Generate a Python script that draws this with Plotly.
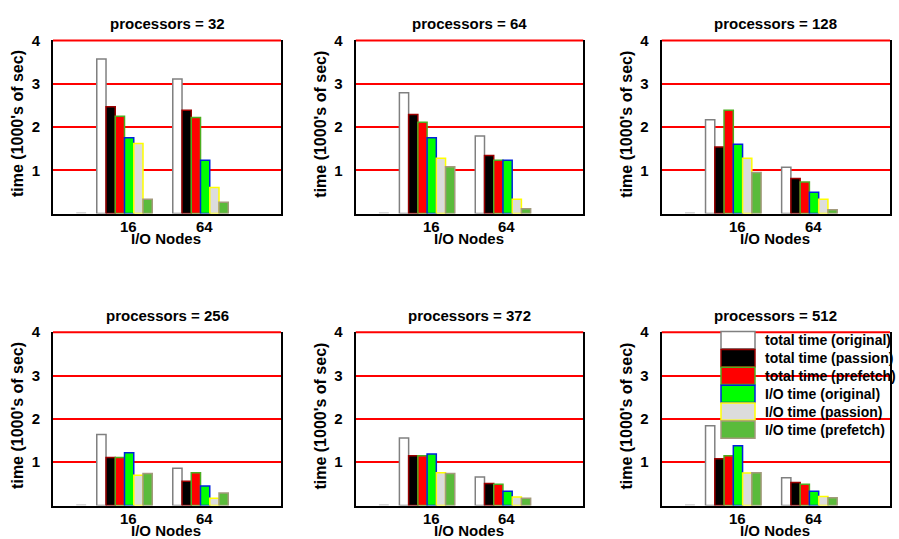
import plotly.graph_objects as go

# Run times (1000's of seconds) for each processor count, at 16 and 64 I/O nodes
PROCESSORS = [32, 64, 128, 256, 372, 512]
IO_NODES = ["16", "64"]

TOTAL_ORIGINAL = [[3.57, 3.11], [2.79, 1.79], [2.17, 1.07], [1.64, 0.86], [1.56, 0.66], [1.84, 0.64]]
TOTAL_PASSION = [[2.47, 2.39], [2.29, 1.34], [1.54, 0.81], [1.11, 0.56], [1.15, 0.51], [1.08, 0.53]]
TOTAL_PREFETCH = [[2.25, 2.22], [2.11, 1.23], [2.39, 0.73], [1.11, 0.76], [1.15, 0.49], [1.15, 0.49]]
IO_ORIGINAL = [[1.75, 1.23], [1.75, 1.23], [1.60, 0.49], [1.22, 0.45], [1.19, 0.33], [1.38, 0.33]]
IO_PASSION = [[1.62, 0.60], [1.28, 0.33], [1.28, 0.33], [0.70, 0.17], [0.76, 0.20], [0.75, 0.21]]
IO_PREFETCH = [[0.33, 0.26], [1.08, 0.11], [0.95, 0.09], [0.74, 0.29], [0.74, 0.17], [0.76, 0.18]]

SERIES_NAMES = ["total time (original)", "total time (passion)", "total time (prefetch)",
                "I/O time (original)", "I/O time (passion)", "I/O time (prefetch)"]
SERIES_VALUES = [TOTAL_ORIGINAL, TOTAL_PASSION, TOTAL_PREFETCH, IO_ORIGINAL, IO_PASSION, IO_PREFETCH]
FILLS = ["#ffffff", "#000000", "#ff0000", "#00ff00", "#dcdcdc", "#5abb3b"]
EDGES = ["#808080", "#9b0000", "#4cae20", "#0022dd", "#ffff00", "#a39a7c"]

# short light-grey stub resting on the x axis left of the first cluster
STUB_X = [0.365, 0.495]
STUB_Y = [0.0, 0.0]

Y_TICKS = [1, 2, 3, 4]
Y_MAX = 4
GROUP_X = [1, 2]

W, H = 899, 539

# panel frames in pixels
COL_PX = [(53, 281), (355.7, 583.3), (661.7, 890)]
ROW_PX = [(32, 208), (328.7, 505)]

FONT = "Liberation Sans, Arial, Helvetica, sans-serif"


def bold(size):
    return dict(size=size, color="black", family=FONT, weight="bold")


def fy(py):
    """pixel row -> paper fraction"""
    return (H - py) / H


fig = go.Figure()
annotations = []
shapes = []

for k, procs in enumerate(PROCESSORS):
    r, c = divmod(k, 3)
    idx = "" if k == 0 else str(k + 1)
    xa, ya = "x" + idx, "y" + idx
    x0, x1 = COL_PX[c]
    top, bot = ROW_PX[r]

    for s, name in enumerate(SERIES_NAMES):
        fig.add_trace(go.Bar(
            x=GROUP_X, y=SERIES_VALUES[s][k], name=name,
            xaxis=xa, yaxis=ya, offsetgroup=str(s), showlegend=False,
            marker=dict(color=FILLS[s], line=dict(color=EDGES[s], width=1.5)),
        ))
    fig.add_trace(go.Scatter(
        x=STUB_X, y=STUB_Y, mode="lines", xaxis=xa, yaxis=ya, showlegend=False,
        line=dict(color="#d6d6d6", width=3), hoverinfo="skip",
    ))

    fig.layout["xaxis" + idx] = dict(
        domain=[x0 / W, x1 / W], range=[0.059, 3.059], anchor=ya,
        showticklabels=False, ticks="", showgrid=False,
        showline=True, linecolor="black", linewidth=2, mirror=False,
        zeroline=False, layer="below traces",
    )
    fig.layout["yaxis" + idx] = dict(
        domain=[fy(bot), fy(top)], range=[0, Y_MAX], anchor=xa,
        tickvals=Y_TICKS, ticks="", showgrid=True, gridcolor="#ff0000", gridwidth=2,
        showline=True, linecolor="black", linewidth=2, mirror=True,
        zeroline=False, layer="below traces", ticklabelstandoff=8,
        tickfont=bold(15),
    )

    # red rule along the top of the frame (the y = 4 grid line)
    shapes.append(dict(
        type="line", xref="paper", yref="paper", x0=x0 / W, x1=x1 / W,
        y0=fy(top), y1=fy(top),
        line=dict(color="#ff0000", width=2), layer="below",
    ))

    # category labels under each cluster
    for gx, lab in zip(GROUP_X, IO_NODES):
        annotations.append(dict(
            text=lab, xref=xa, yref=ya + " domain", x=gx, y=0, yshift=-13, xshift=4,
            xanchor="center", yanchor="middle", showarrow=False, font=bold(15),
        ))
    # panel title
    annotations.append(dict(
        text=f"processors = {procs}", xref=xa + " domain", yref=ya + " domain",
        x=0.5, y=1, yshift=17, xanchor="center", yanchor="middle", showarrow=False,
        font=bold(15),
    ))
    # x axis title
    annotations.append(dict(
        text="I/O Nodes", xref=xa + " domain", yref=ya + " domain",
        x=0.5, y=0, yshift=-25, xshift=-1, xanchor="center", yanchor="middle",
        showarrow=False, font=bold(15),
    ))
    # y axis title
    annotations.append(dict(
        text="time (1000's of sec)", xref=xa + " domain", yref=ya + " domain",
        x=0, y=0.5, xshift=-35, yshift=3, xanchor="center", yanchor="middle", textangle=-90,
        showarrow=False, font=bold(16),
    ))

# key drawn inside the last panel
lx, ly = "x6 domain", "y6 domain"
px0, px1 = COL_PX[2]
ptop, pbot = ROW_PX[1]
pw, ph = px1 - px0, pbot - ptop
for s, name in enumerate(SERIES_NAMES):
    box_top = 328.0 + 18.2 * s
    box_bot = box_top + 17.5
    shapes.append(dict(
        type="rect", xref=lx, yref=ly,
        x0=(721 - px0) / pw, x1=(755 - px0) / pw,
        y0=(pbot - box_bot) / ph, y1=(pbot - box_top) / ph,
        fillcolor=FILLS[s], line=dict(color=EDGES[s], width=1.5), layer="above",
    ))
    annotations.append(dict(
        text=name, xref=lx, yref=ly,
        x=(763 - px0) / pw, y=(pbot - (box_top + box_bot) / 2) / ph,
        xanchor="left", yanchor="middle", showarrow=False, font=bold(14),
    ))

fig.update_layout(
    width=W, height=H, margin=dict(l=0, r=0, t=0, b=0),
    paper_bgcolor="white", plot_bgcolor="white",
    barmode="group", bargap=0.27, bargroupgap=0,
    font=dict(family=FONT, color="black", weight="bold"),
    showlegend=False, annotations=annotations, shapes=shapes,
)

fig.write_html("out.html")
